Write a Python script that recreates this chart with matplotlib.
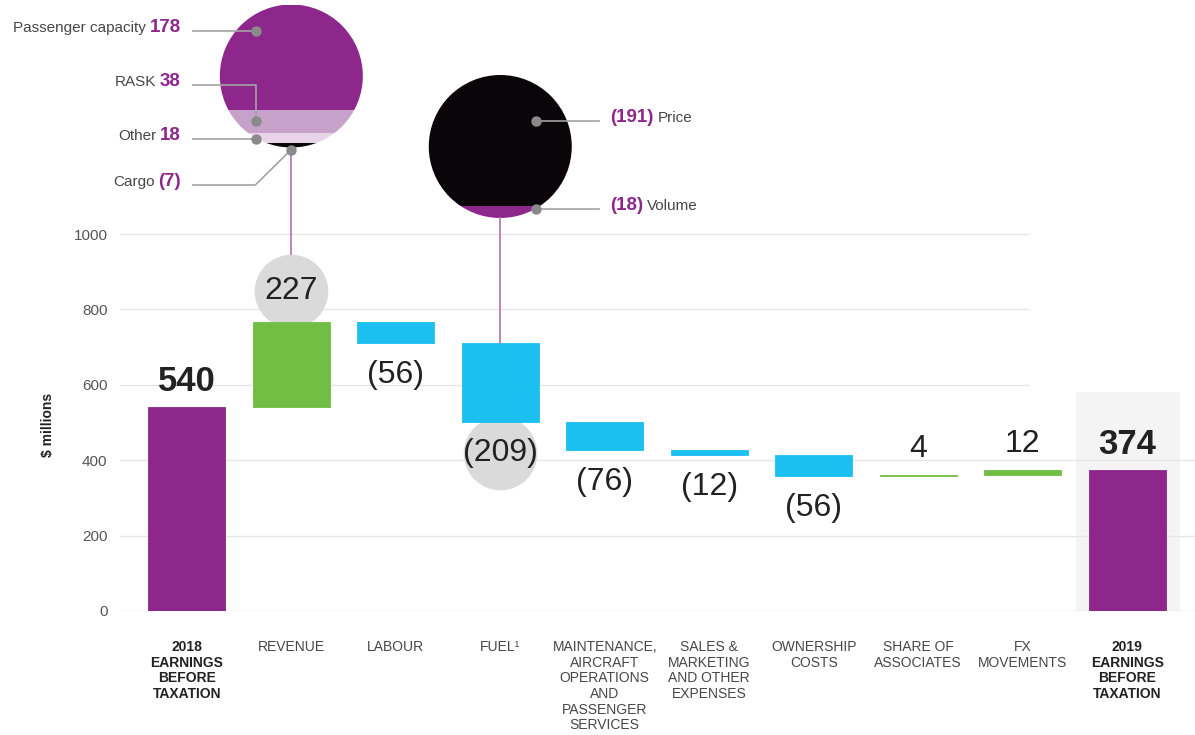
import matplotlib
matplotlib.use("Agg")
import matplotlib.pyplot as plt
from matplotlib.patches import Circle, Rectangle
from matplotlib.transforms import offset_copy

plt.rcParams['font.family'] = ['Liberation Sans', 'DejaVu Sans']

# ---- data ----
categories = ['2018\nEARNINGS\nBEFORE\nTAXATION', 'REVENUE', 'LABOUR', 'FUEL¹',
              'MAINTENANCE,\nAIRCRAFT\nOPERATIONS\nAND\nPASSENGER\nSERVICES',
              'SALES &\nMARKETING\nAND OTHER\nEXPENSES', 'OWNERSHIP\nCOSTS',
              'SHARE OF\nASSOCIATES', 'FX\nMOVEMENTS', '2019\nEARNINGS\nBEFORE\nTAXATION']
start_value = 540
changes = [227, -56, -209, -76, -12, -56, 4, 12]

revenue_parts = ['Passenger capacity', 'RASK', 'Other', 'Cargo']
revenue_values = [178, 38, 18, -7]
fuel_parts = ['Price', 'Volume']
fuel_values = [-191, -18]

yticks = [0, 200, 400, 600, 800, 1000]

# ---- colours ----
PURPLE = '#8e278c'
GREEN = '#72bd44'
BLUE = '#1bc0f0'
GREY_C = '#dadada'
DARK = '#222222'
LABEL = '#474747'
DOT = '#8a8a8a'
LINE = '#a3a3a3'
CONNECT = '#b57cb9'


def fmt(v):
    return '(%d)' % abs(v) if v < 0 else '%d' % v


W, H = 1195, 735
fig = plt.figure(figsize=(W / 100, H / 100), dpi=100)
ax = fig.add_axes([120 / W, (H - 611) / H, (W - 120) / W, 1100 * 0.377 / H])
ax.set_xlim(-0.64, 9.65)
ax.set_ylim(0, 1100)
for s in ax.spines.values():
    s.set_visible(False)

# waterfall geometry
bottoms, heights, colors, ends = [0], [start_value], [PURPLE], [start_value]
running = start_value
for c in changes:
    bottoms.append(min(running, running + c))
    heights.append(abs(c))
    colors.append(GREEN if c > 0 else BLUE)
    running += c
    ends.append(running)
bottoms.append(0)
heights.append(running)
colors.append(PURPLE)
final_value = running
xs = list(range(len(categories)))

# background panel for final column and grid
ax.axvspan(8.51, 9.51, ymax=581 / 1100, color='#f4f4f4', zorder=0, lw=0)
for y in yticks:
    ax.axhline(y, xmax=0.845 if y > 581 else 1, color='#e6e6e6', lw=1, zorder=0.5)

ax.bar(xs, heights, bottom=bottoms, width=0.738, color=colors, edgecolor=colors,
       linewidth=0.6, zorder=2)

# value labels
up = offset_copy(ax.transData, fig=fig, y=26, units='dots')
down = offset_copy(ax.transData, fig=fig, y=-32, units='dots')
circ_up = offset_copy(ax.transData, fig=fig, y=31, units='dots')
circ_down = offset_copy(ax.transData, fig=fig, y=-31, units='dots')

ax.text(0, start_value, fmt(start_value), transform=up, ha='center', va='center',
        fontsize=25, fontweight='bold', color=DARK)
ax.text(9, final_value, fmt(final_value), transform=up, ha='center', va='center',
        fontsize=25, fontweight='bold', color=DARK)
for i, c in enumerate(changes, start=1):
    top = bottoms[i] + heights[i]
    if abs(c) > 200:
        if c > 0:
            ax.plot(i, top, 'o', ms=53, color=GREY_C, mec='none', transform=circ_up, zorder=1)
            ax.text(i, top, fmt(c), transform=circ_up, ha='center', va='center',
                    fontsize=23, color=DARK, zorder=3)
        else:
            ax.plot(i, bottoms[i], 'o', ms=53, color=GREY_C, mec='none', transform=circ_down, zorder=1)
            ax.text(i, bottoms[i], fmt(c), transform=circ_down, ha='center', va='center',
                    fontsize=23, color=DARK, zorder=3)
    elif c > 0:
        ax.text(i, top, fmt(c), transform=up, ha='center', va='center', fontsize=23, color=DARK)
    else:
        ax.text(i, bottoms[i], fmt(c), transform=down, ha='center', va='center',
                fontsize=23, color=DARK)

# axes labels
ax.set_yticks(yticks)
ax.set_yticklabels([str(t) for t in yticks], fontsize=11, color='#555555')
ax.set_xticks(xs)
ax.set_xticklabels(categories, fontsize=10, linespacing=1.15)
ax.tick_params(length=0)
ax.tick_params(axis='y', pad=9)
ax.tick_params(axis='x', pad=21)
for i, lab in enumerate(ax.get_xticklabels()):
    if i in (0, len(categories) - 1):
        lab.set_fontweight('bold')
        lab.set_color(DARK)
    else:
        lab.set_color(LABEL)
ax.set_ylabel('$ millions', fontsize=10, fontweight='bold', color=DARK)
ax.yaxis.set_label_coords(-0.0605, 0.448)

# ---- overlay in pixel coordinates ----
ov = fig.add_axes([0, 0, 1, 1], zorder=5)
ov.set_xlim(0, W)
ov.set_ylim(H, 0)
ov.axis('off')
ov.patch.set_alpha(0)


def px(x):
    return ax.transData.transform((x, 0))[0]


def py(y):
    return H - ax.transData.transform((0, y))[1]


def band_circle(cx, cy, r, values, cols):
    circ = Circle((cx, cy), r, facecolor='none', edgecolor='none')
    ov.add_patch(circ)
    total = sum(abs(v) for v in values)
    y0 = cy - r
    mids = []
    for v, col in zip(values, cols):
        h = 2 * r * abs(v) / total
        rect = Rectangle((cx - r - 1, y0), 2 * r + 2, h, facecolor=col, edgecolor='none')
        ov.add_patch(rect)
        rect.set_clip_path(circ)
        mids.append(y0 + h / 2)
        y0 += h
    return mids


renderer = fig.canvas.get_renderer()


def left_label(word, value, y):
    t = ov.text(181, y + 1, fmt(value), ha='right', va='baseline', fontsize=13.5,
                fontweight='bold', color=PURPLE)
    w = t.get_window_extent(renderer).width
    ov.text(181 - w - 4, y + 1, word, ha='right', va='baseline', fontsize=11, color=LABEL)


def right_label(word, value, y):
    t = ov.text(610, y + 1, fmt(value), ha='left', va='baseline', fontsize=13.5,
                fontweight='bold', color=PURPLE)
    w = t.get_window_extent(renderer).width
    ov.text(610 + w + 4, y + 1, word, ha='left', va='baseline', fontsize=11, color=LABEL)


def dot(x, y):
    ov.plot(x, y, 'o', ms=7.5, color=DOT, mec='none', zorder=6)


# revenue breakdown circle
rcx, rcy, r = px(1), 76, 71.5
mids = band_circle(rcx, rcy, r, revenue_values, [PURPLE, '#c6a1ca', '#e7d4e9', '#0a0508'])
rev_top = py(ends[1])
ov.plot([rcx, rcx], [rcy + r, rev_top - 31 - 37], color=CONNECT, lw=1.3, zorder=1)

label_y = [31, 85, 139, 185]
dx = rcx - 35
ov.plot([193, dx], [label_y[0]] * 2, color=LINE, lw=1.2)
dot(dx, label_y[0])
ov.plot([193, dx, dx], [label_y[1], label_y[1], mids[1]], color=LINE, lw=1.2)
dot(dx, mids[1])
ov.plot([193, dx], [label_y[2]] * 2, color=LINE, lw=1.2)
dot(dx, label_y[2])
ov.plot([193, dx - 1, rcx], [label_y[3], label_y[3], rcy + r + 2], color=LINE, lw=1.2)
dot(rcx, rcy + r + 2)
for word, v, y in zip(revenue_parts, revenue_values, label_y):
    left_label(word, v, y)

# fuel breakdown circle
fcx, fcy = px(3), 146.5
fmids = band_circle(fcx, fcy, r, fuel_values, ['#0a0508', PURPLE])
ov.plot([fcx, fcx], [fcy + r, py(ends[2])], color=CONNECT, lw=1.3, zorder=1)
fuel_y = [121, 209]
for word, v, y in zip(fuel_parts, fuel_values, fuel_y):
    ov.plot([fcx + 36, 599], [y, y], color=LINE, lw=1.2)
    dot(fcx + 36, y)
    right_label(word, v, y)

fig.savefig('out.png', dpi=100)
